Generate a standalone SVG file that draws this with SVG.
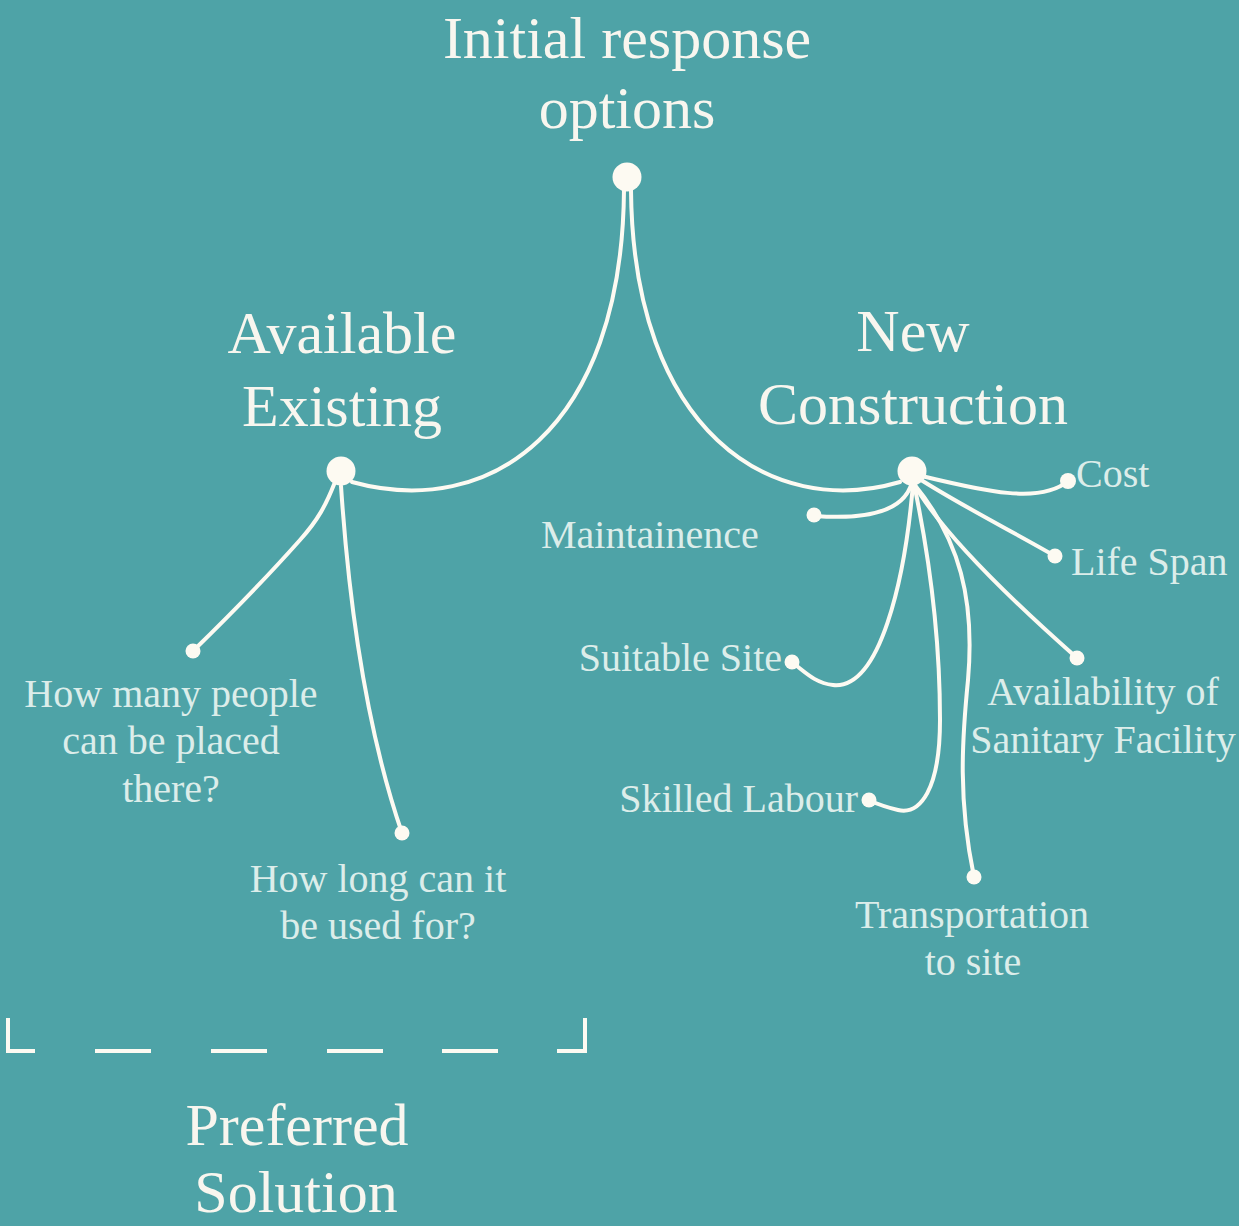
<svg xmlns="http://www.w3.org/2000/svg" width="1239" height="1226" viewBox="0 0 1239 1226">
<style>
.title{font-family:"Liberation Serif","DejaVu Serif",serif;font-size:60px;fill:#F8F6EF;text-anchor:middle}
.lbl{font-family:"Liberation Serif","DejaVu Serif",serif;font-size:40px;fill:#DCEDEA}
.c{text-anchor:middle}
.e{text-anchor:end}
.ln{fill:none;stroke:#FDFAF2;stroke-width:4;stroke-linecap:round}
.dot{fill:#FDFAF2}
.br{fill:none;stroke:#FDFAF2;stroke-width:4}
</style>
<rect width="1239" height="1226" fill="#4EA3A7"/>
<g id="connectors">
<path class="ln" d="M624 190 C622 430 490 520 352 482"/>
<path class="ln" d="M631 190 C633 430 770 520 900 482"/>
<path class="ln" d="M335 482 C326 505 318 520 300 540 C260 585 230 615 193 651"/>
<path class="ln" d="M341 486 C350 620 370 740 402 833"/>
<path class="ln" d="M912 482 C905 510 870 520 815 516"/>
<path class="ln" d="M922 476 C980 490 1040 505 1068 481"/>
<path class="ln" d="M918 478 C960 505 1010 530 1055 556"/>
<path class="ln" d="M914 484 C940 530 1000 590 1077 658"/>
<path class="ln" d="M914 484 C960 540 975 600 968 680 C962 740 958 800 974 877"/>
<path class="ln" d="M914 484 C930 560 940 640 940 720 C940 790 920 815 898 810 C885 807 875 803 868 800"/>
<path class="ln" d="M913 484 C905 580 880 690 833 685 C815 683 805 672 793 663"/>
</g>
<g id="node-initial">
<circle class="dot" cx="627" cy="177" r="14.5"/>
<text class="title" x="627" y="58">Initial response</text>
<text class="title" x="627" y="128">options</text>
</g>
<g id="node-available">
<circle class="dot" cx="341" cy="471" r="14.5"/>
<text class="title" x="342" y="353">Available</text>
<text class="title" x="342" y="426">Existing</text>
</g>
<g id="node-new">
<circle class="dot" cx="912" cy="471" r="14.5"/>
<text class="title" x="913" y="351">New</text>
<text class="title" x="913" y="424">Construction</text>
</g>
<g id="node-people">
<circle class="dot" cx="193" cy="651" r="7.5"/>
<text class="lbl c" x="171" y="707">How many people</text>
<text class="lbl c" x="171" y="754">can be placed</text>
<text class="lbl c" x="171" y="802">there?</text>
</g>
<g id="node-howlong">
<circle class="dot" cx="402" cy="833" r="7.5"/>
<text class="lbl c" x="378" y="892">How long can it</text>
<text class="lbl c" x="378" y="939">be used for?</text>
</g>
<g id="node-maint">
<circle class="dot" cx="814" cy="515" r="7.5"/>
<text class="lbl" x="541" y="548">Maintainence</text>
</g>
<g id="node-cost">
<circle class="dot" cx="1068" cy="481" r="8"/>
<text class="lbl" x="1076" y="487">Cost</text>
</g>
<g id="node-life">
<circle class="dot" cx="1055" cy="556" r="7.5"/>
<text class="lbl" x="1071" y="575">Life Span</text>
</g>
<g id="node-sanitary">
<circle class="dot" cx="1077" cy="658" r="7.5"/>
<text class="lbl c" x="1103" y="705">Availability of</text>
<text class="lbl c" x="1103" y="753">Sanitary Facility</text>
</g>
<g id="node-site">
<circle class="dot" cx="792" cy="662" r="7.5"/>
<text class="lbl e" x="782" y="671">Suitable Site</text>
</g>
<g id="node-labour">
<circle class="dot" cx="869" cy="800" r="7.5"/>
<text class="lbl e" x="858" y="812">Skilled Labour</text>
</g>
<g id="node-transport">
<circle class="dot" cx="974" cy="877" r="7.5"/>
<text class="lbl c" x="972" y="928">Transportation</text>
<text class="lbl c" x="973" y="975">to site</text>
</g>
<g id="node-preferred">
<path class="br" d="M8 1018 V1051 H35"/>
<path class="br" d="M95 1051 H151 M211 1051 H267 M327 1051 H383 M442 1051 H498"/>
<path class="br" d="M557 1051 H585 V1018"/>
<text class="title" x="297" y="1145">Preferred</text>
<text class="title" x="296" y="1212">Solution</text>
</g>
</svg>
